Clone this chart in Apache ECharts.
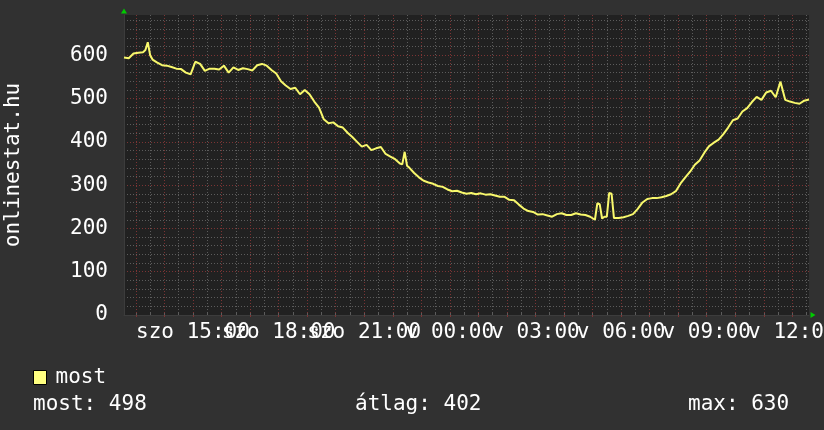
<!DOCTYPE html>
<html><head><meta charset="utf-8">
<script src="https://cdn.jsdelivr.net/npm/echarts@6/dist/echarts.min.js"></script>
<style>html,body{margin:0;padding:0;background:#313131}#c{width:824px;height:430px}</style>
</head><body><div id="c"></div>
<script>
// ---- data ----
const dayNames = ['szo', 'v'];
const startMinute = 12 * 60 + 35;   // szo 12:35
const slotMinutes = 5;
const slotCount = 289;              // 24 h in 5-minute steps
const seriesName = 'most';
const axisTitle = 'onlinestat.hu';
const yMax = 693;
const times = [
 '12:35','12:45','12:55','13:05','13:15','13:20','13:25','13:30','13:35','13:45','13:55',
 '14:05','14:15','14:25','14:35','14:45','14:55',
 '15:05','15:15','15:25','15:35','15:45','15:55',
 '16:05','16:15','16:25','16:35','16:45','16:55',
 '17:05','17:15','17:25','17:35','17:45','17:55',
 '18:05','18:15','18:25','18:35','18:45','18:55',
 '19:05','19:15','19:25','19:35','19:45','19:55',
 '20:05','20:15','20:25','20:35','20:45','20:55',
 '21:05','21:15','21:25','21:35','21:45','21:55',
 '22:05','22:15','22:20','22:25','22:30','22:35','22:45','22:55',
 '23:05','23:15','23:25','23:35','23:45','23:55',
 '00:05','00:15','00:25','00:35','00:45','00:55',
 '01:05','01:15','01:25','01:35','01:45','01:55',
 '02:05','02:15','02:25','02:35','02:45','02:55',
 '03:05','03:15','03:25','03:35','03:45','03:55',
 '04:05','04:15','04:25','04:35','04:45','04:55',
 '05:05','05:10','05:15','05:20','05:25','05:30','05:35','05:40','05:45','05:55',
 '06:05','06:15','06:25','06:35','06:45','06:55',
 '07:05','07:15','07:25','07:35','07:45','07:55',
 '08:05','08:15','08:25','08:35','08:45','08:55',
 '09:05','09:15','09:25','09:35','09:45','09:55',
 '10:05','10:15','10:25','10:35','10:45','10:55',
 '11:05','11:15','11:25','11:35','11:45','11:55',
 '12:05','12:15','12:25','12:35'
];
const counts = [
 595,593,604,606,607,612,630,600,590,583,577,
 576,573,569,568,560,556,
 585,580,564,569,569,567,
 576,560,572,566,570,568,
 565,577,580,576,566,558,
 540,530,522,525,510,520,
 510,493,479,452,443,445,
 436,433,421,411,400,389,
 393,381,385,388,372,366,
 360,350,348,377,345,340,328,318,
 310,306,303,298,296,290,
 286,287,283,280,282,279,
 281,278,279,276,273,273,
 266,265,255,246,240,238,
 232,233,230,227,233,235,
 231,231,235,232,231,227,
 220,258,256,223,227,227,282,280,224,224,
 226,229,233,245,260,268,
 270,270,272,275,279,286,
 304,318,331,347,357,375,
 390,398,405,418,433,450,
 454,470,478,492,504,497,
 514,518,503,539,497,493,
 490,488,495,498
];
const stats = [['most', 498], ['átlag', 402], ['max', 630]];

// ---- build ----
const pad = n => (n < 10 ? '0' : '') + n;
const slotMinuteOfDay = i => (startMinute + i * slotMinutes) % 1440;
const categories = [];
for (let i = 0; i < slotCount; i++) {
  const m = startMinute + i * slotMinutes;
  const mm = m % 1440;
  categories.push(dayNames[Math.floor(m / 1440)] + ' ' + pad(Math.floor(mm / 60)) + ':' + pad(mm % 60));
}
let prev = -1;
const seriesData = times.map((t, i) => {
  const p = t.split(':').map(Number);
  let s = ((p[0] * 60 + p[1] - startMinute + 1440) % 1440) / slotMinutes;
  if (s < prev) s += slotCount - 1;
  prev = s;
  return [s, counts[i]];
});

const FONT = 'DejaVu Sans Mono';
const white = '#ffffff';
const gridGray = '#5c5c5c';
const gridRed = '#7c3434';
const arrow = '#00cc00';
const everyHalfHour = (idx) => slotMinuteOfDay(idx) % 30 === 0;
const everyHour = (idx) => slotMinuteOfDay(idx) % 60 === 0;
const every3Hours = (idx) => slotMinuteOfDay(idx) % 180 === 0;

const chart = echarts.init(document.getElementById('c'), null, {renderer: 'canvas'});
chart.setOption({
  animation: false,
  backgroundColor: '#313131',
  grid: {left: 124, right: 15, top: 15, bottom: 115, show: true, backgroundColor: '#212121', borderWidth: 0,
    containLabel: false, outerBoundsMode: 'none'},
  title: stats.map((s, i) => ({
    text: s[0] + ': ' + s[1],
    left: [33, 355, 688][i], top: 394, padding: 0,
    textStyle: {color: white, fontFamily: FONT, fontSize: 21, fontWeight: 'normal'}
  })),
  legend: {
    data: [seriesName], left: 33, top: 367, padding: 0, icon: 'rect',
    itemWidth: 13, itemHeight: 14, selectedMode: false,
    itemStyle: {color: '#ffff80', borderColor: '#000', borderWidth: 1},
    textStyle: {color: white, fontFamily: FONT, fontSize: 21, padding: [0, 0, 0, 4]}
  },
  xAxis: [{
    type: 'category', data: categories, boundaryGap: false, position: 'bottom',
    axisLine: {show: true, lineStyle: {color: '#3c3c3c'}},
    axisTick: {show: true, inside: true, length: 2, interval: everyHalfHour, lineStyle: {color: gridGray}},
    axisLabel: {
      interval: 0, hideOverlap: false,
      formatter: (v, idx) => (every3Hours(idx) ? v : ''),
      color: white, fontFamily: FONT, fontSize: 21, margin: 7
    },
    splitLine: {show: true, interval: everyHalfHour,
      lineStyle: {color: gridGray, type: [1, 2], width: 1}}
  }, {
    type: 'category', data: categories, boundaryGap: false, position: 'bottom',
    axisLine: {show: true, lineStyle: {color: arrow, width: 0}, symbol: ['none', 'triangle'], symbolSize: [6, 5], symbolOffset: [0, 4]},
    axisTick: {show: true, inside: false, length: 2, interval: everyHour, lineStyle: {color: gridRed}},
    axisLabel: {show: false},
    splitLine: {show: true, interval: everyHour,
      lineStyle: {color: gridRed, type: [1, 2], width: 1}}
  }],
  yAxis: [{
    type: 'value', min: 0, max: yMax, interval: 20, position: 'left',
    axisLine: {show: true, lineStyle: {color: '#3c3c3c'}},
    axisTick: {show: false}, axisLabel: {show: false},
    splitLine: {show: true, showMaxLine: false, lineStyle: {color: gridGray, type: [1, 2], width: 1}}
  }, {
    type: 'value', min: 0, max: yMax, interval: 100, position: 'left',
    name: axisTitle, nameLocation: 'middle', nameRotate: 90, nameGap: 100,
    nameTextStyle: {color: white, fontFamily: FONT, fontSize: 21},
    axisLine: {show: true, lineStyle: {color: arrow, width: 0}, symbol: ['none', 'triangle'], symbolSize: [6, 5], symbolOffset: [0, 4]},
    axisTick: {show: false},
    axisLabel: {color: white, fontFamily: FONT, fontSize: 21, margin: 16, showMaxLabel: false, padding: [5, 0, 0, 0]},
    splitLine: {show: true, showMaxLine: false, showMinLine: false, lineStyle: {color: gridRed, type: [1, 2], width: 1}}
  }],
  series: [{
    name: seriesName, type: 'line', xAxisIndex: 0, yAxisIndex: 1,
    data: seriesData, showSymbol: false, color: '#f8f86c',
    lineStyle: {color: '#f8f86c', width: 2}
  }]
});
</script></body></html>
